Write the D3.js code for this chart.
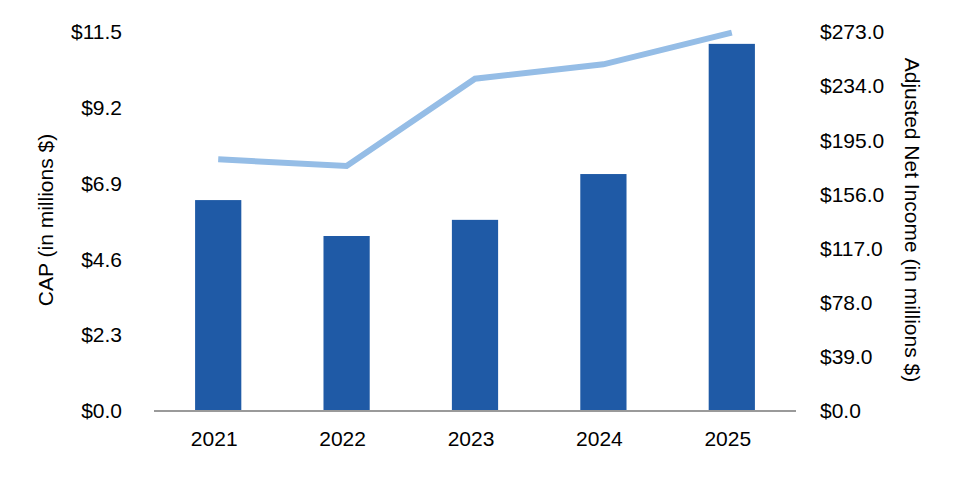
<!DOCTYPE html>
<html>
<head>
<meta charset="utf-8">
<script src="https://cdn.jsdelivr.net/npm/d3@7"></script>
<style>
  body { margin: 0; background: #fff; }
  text { font-family: "Liberation Sans", Arial, sans-serif; fill: #000; }
</style>
</head>
<body>
<svg width="960" height="480"></svg>
<script>
// Data
var years = ["2021", "2022", "2023", "2024", "2025"];
var capValues = [6.40, 5.31, 5.80, 7.19, 11.14];          // CAP, left axis
var netIncomeValues = [181.3, 176.5, 239.4, 249.7, 272.5]; // Adjusted Net Income, right axis
var leftTicks = [0, 2.3, 4.6, 6.9, 9.2, 11.5];
var rightTicks = [0, 39, 78, 117, 156, 195, 234, 273];

var svg = d3.select("svg");

var plotLeft = 154, plotRight = 796, plotTop = 32, plotBottom = 411;

// Scales
var x = d3.scaleBand()
  .domain(years)
  .range([plotLeft, plotRight])
  .paddingInner(0.64)
  .paddingOuter(0.32);

var yLeft = d3.scaleLinear().domain([0, 11.5]).range([plotBottom, plotTop]);
var yRight = d3.scaleLinear().domain([0, 273]).range([plotBottom, plotTop]);

// Bars
svg.append("g")
  .selectAll("rect")
  .data(years)
  .enter()
  .append("rect")
    .attr("x", function (d) { return x(d); })
    .attr("width", x.bandwidth())
    .attr("y", function (d, i) { return yLeft(capValues[i]); })
    .attr("height", function (d, i) { return plotBottom - yLeft(capValues[i]); })
    .attr("fill", "#1f5aa6");

// Baseline
svg.append("line")
  .attr("x1", plotLeft).attr("x2", plotRight)
  .attr("y1", plotBottom).attr("y2", plotBottom)
  .attr("stroke", "#9a9a9a")
  .attr("stroke-width", 2);

// Line
var line = d3.line()
  .x(function (d, i) { return x(years[i]) + x.bandwidth() / 2; })
  .y(function (d) { return yRight(d); });

svg.append("path")
  .datum(netIncomeValues)
  .attr("d", line)
  .attr("fill", "none")
  .attr("stroke", "#95bde6")
  .attr("stroke-width", 6);

// Axes
var leftAxis = svg.append("g")
  .attr("transform", "translate(122,0)")
  .call(d3.axisLeft(yLeft).tickValues(leftTicks).tickSize(0).tickPadding(0)
    .tickFormat(function (d) { return "$" + d3.format(".1f")(d); }));

var rightAxis = svg.append("g")
  .attr("transform", "translate(820,0)")
  .call(d3.axisRight(yRight).tickValues(rightTicks).tickSize(0).tickPadding(0)
    .tickFormat(function (d) { return "$" + d3.format(".1f")(d); }));

var bottomAxis = svg.append("g")
  .attr("transform", "translate(-4," + plotBottom + ")")
  .call(d3.axisBottom(x).tickSize(0).tickPadding(20));

[leftAxis, rightAxis, bottomAxis].forEach(function (g) {
  g.select(".domain").remove();
  g.selectAll("text")
    .style("font-family", "'Liberation Sans', Arial, sans-serif")
    .style("font-size", "21px")
    .attr("fill", "#000");
});

// Axis titles
svg.append("text")
  .attr("transform", "translate(53,220) rotate(-90)")
  .attr("text-anchor", "middle")
  .style("font-size", "21px")
  .text("CAP (in millions $)");

svg.append("text")
  .attr("transform", "translate(905,220) rotate(90)")
  .attr("text-anchor", "middle")
  .style("font-size", "21px")
  .text("Adjusted Net Income (in millions $)");
</script>
</body>
</html>
